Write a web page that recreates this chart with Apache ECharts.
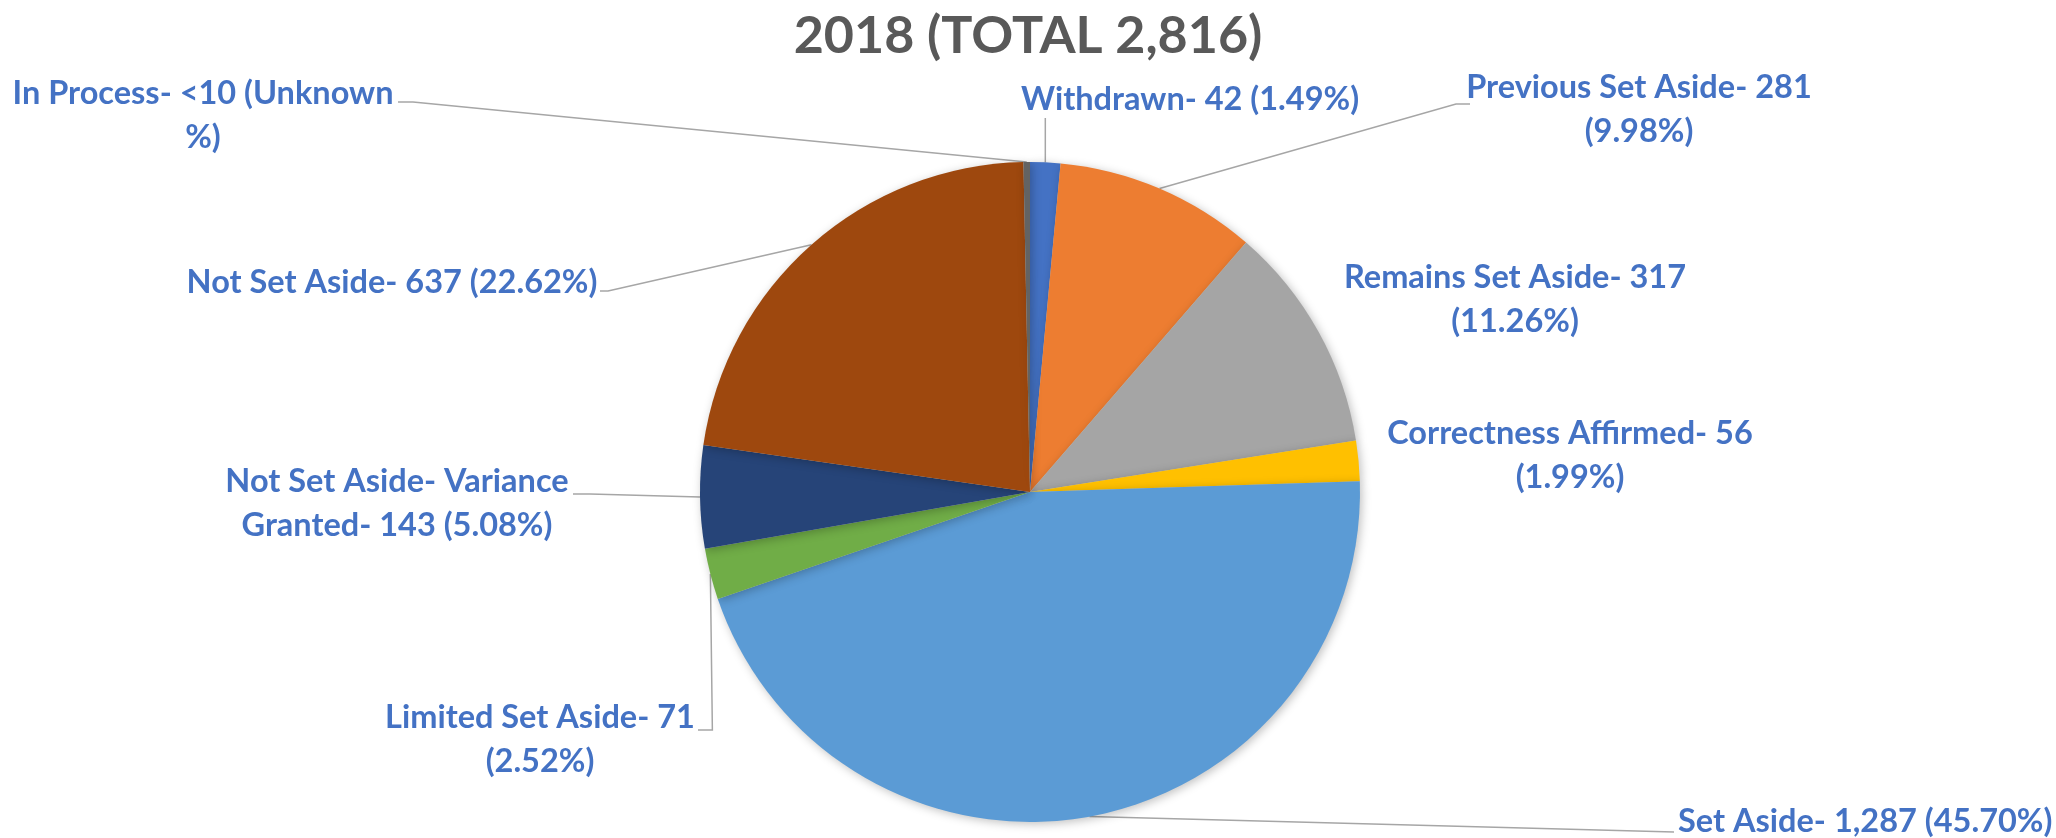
<!DOCTYPE html>
<html>
<head>
<meta charset="utf-8">
<script src="https://cdn.jsdelivr.net/npm/echarts@6/dist/echarts.min.js"></script>
<style>
html,body{margin:0;padding:0;background:#fff;}
#chart{width:2056px;height:838px;}
</style>
</head>
<body>
<div id="chart"></div>
<script>
// ---- data ----
const titleText = '2018 (TOTAL 2,816)';
const categories = [
  'Withdrawn', 'Previous Set Aside', 'Remains Set Aside', 'Correctness Affirmed',
  'Set Aside', 'Limited Set Aside', 'Not Set Aside- Variance Granted', 'Not Set Aside', 'In Process'
];
const values = [42, 281, 317, 56, 1287, 71, 143, 637, 9];
const labelTexts = [
  'Withdrawn- 42 (1.49%)',
  'Previous Set Aside- 281\n(9.98%)',
  'Remains Set Aside- 317\n(11.26%)',
  'Correctness Affirmed- 56\n(1.99%)',
  'Set Aside- 1,287 (45.70%)',
  'Limited Set Aside- 71\n(2.52%)',
  'Not Set Aside- Variance\nGranted- 143 (5.08%)',
  'Not Set Aside- 637 (22.62%)',
  'In Process- <10 (Unknown\n%)'
];
const colors = ['#4472C4', '#ED7D31', '#A5A5A5', '#FFC000', '#5B9BD5', '#70AD47', '#264478', '#9E480E', '#636363'];

// ---- label placement (layout, not data) ----
const labelPlacement = [
  {x: 1190, y: 100, align: 'center', line: s => [s, [s[0], 118]]},
  {x: 1639, y: 110, align: 'center', line: s => [s, [1456, 104], [1470, 104]]},
  {x: 1515, y: 300, align: 'center', line: null},
  {x: 1570, y: 456, align: 'center', line: null},
  {x: 1678, y: 822, align: 'left', line: s => [s, [1674, 832]]},
  {x: 540, y: 740, align: 'center', line: s => [s, [s[0] + 2, 730], [698, 730]]},
  {x: 397, y: 504, align: 'center', line: s => [s, [590, 494], [573, 494]]},
  {x: 392, y: 283, align: 'center', line: s => [s, [608, 291], [600, 291]]},
  {x: 203, y: 116, align: 'center', line: s => [s, [413, 102], [398, 102]]}
];

const data = categories.map((c, i) => ({
  name: c,
  value: values[i],
  itemStyle: {color: colors[i]},
  labelLine: {show: labelPlacement[i].line !== null}
}));

const chart = echarts.init(document.getElementById('chart'));
chart.setOption({
  animation: false,
  title: {
    text: titleText,
    left: 'center',
    top: 3,
    textStyle: {fontFamily: 'Lato', fontWeight: 'bold', fontSize: 52, color: '#595959', lineHeight: 56}
  },
  series: [{
    type: 'pie',
    center: [1030, 492],
    radius: 330,
    startAngle: 90,
    clockwise: true,
    avoidLabelOverlap: false,
    itemStyle: {shadowBlur: 10, shadowOffsetX: 2, shadowOffsetY: 2, shadowColor: 'rgba(0,0,0,0.25)'},
    label: {
      show: true,
      position: 'outside',
      formatter: p => labelTexts[p.dataIndex],
      fontFamily: 'Lato',
      fontWeight: 'bold',
      fontSize: 32.5,
      lineHeight: 44,
      color: '#4472C4',
      align: 'center'
    },
    labelLine: {show: true, length: 10, length2: 10, lineStyle: {color: '#A6A6A6', width: 1.5}},
    labelLayout: function (params) {
      const lp = labelPlacement[params.dataIndex];
      const out = {x: lp.x, y: lp.y, align: lp.align, verticalAlign: 'middle'};
      if (lp.line && params.labelLinePoints) {
        out.labelLinePoints = lp.line(params.labelLinePoints[0]);
      }
      return out;
    },
    emphasis: {disabled: true},
    data: data
  }]
});
</script>
</body>
</html>
